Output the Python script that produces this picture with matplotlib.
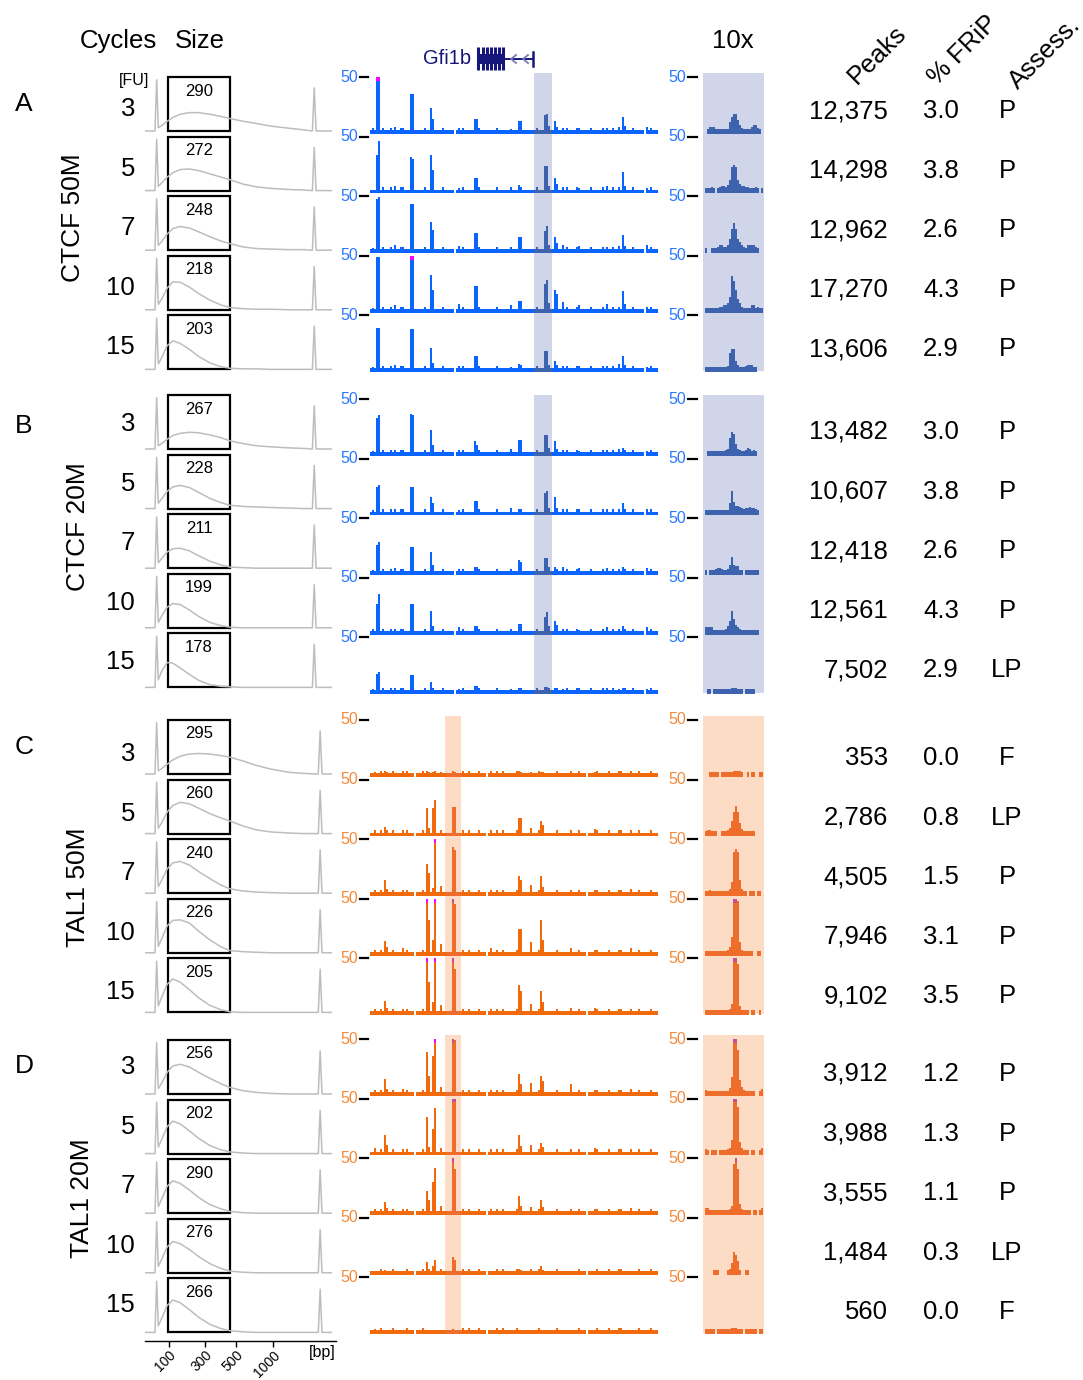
import numpy as np
import matplotlib.pyplot as plt
from matplotlib.patches import Rectangle

plt.rcParams['font.family'] = ['Liberation Sans', 'DejaVu Sans']

W, H = 1083, 1380

# ---------------- data ----------------
cycles = [3, 5, 7, 10, 15]
panel_letters = ['A', 'B', 'C', 'D']
panel_names = ['CTCF 50M', 'CTCF 20M', 'TAL1 50M', 'TAL1 20M']

sizes = [[290, 272, 248, 218, 203],
         [267, 228, 211, 199, 178],
         [295, 260, 240, 226, 205],
         [256, 202, 290, 276, 266]]
peaks = [[12375, 14298, 12962, 17270, 13606],
         [13482, 10607, 12418, 12561, 7502],
         [353, 2786, 4505, 7946, 9102],
         [3912, 3988, 3555, 1484, 560]]
frip = [[3.0, 3.8, 2.6, 4.3, 2.9],
        [3.0, 3.8, 2.6, 4.3, 2.9],
        [0.0, 0.8, 1.5, 3.1, 3.5],
        [1.2, 1.3, 1.1, 0.3, 0.0]]
assess = [['P', 'P', 'P', 'P', 'P'],
          ['P', 'P', 'P', 'P', 'LP'],
          ['F', 'LP', 'P', 'P', 'P'],
          ['P', 'P', 'P', 'LP', 'F']]

# electropherogram traces (relative fluorescence, 0..1) at these run positions
ep_x = [7.2, 9, 12, 15, 19, 24, 29, 35, 41, 46, 53, 60, 68, 78, 86]
ep_hump = [
    [[0.06, 0.10, 0.18, 0.25, 0.31, 0.34, 0.34, 0.31, 0.27, 0.23, 0.18, 0.14, 0.09, 0.05, 0.02],
     [0.08, 0.14, 0.25, 0.33, 0.39, 0.40, 0.37, 0.31, 0.25, 0.20, 0.12, 0.07, 0.04, 0.02, 0.01],
     [0.09, 0.16, 0.30, 0.40, 0.44, 0.41, 0.34, 0.25, 0.17, 0.12, 0.06, 0.03, 0.02, 0.01, 0.01],
     [0.10, 0.20, 0.40, 0.52, 0.51, 0.42, 0.30, 0.18, 0.09, 0.04, 0.02, 0.01, 0.01, 0.0, 0.0],
     [0.10, 0.22, 0.44, 0.53, 0.48, 0.37, 0.24, 0.12, 0.05, 0.02, 0.01, 0.01, 0.0, 0.0, 0.0]],
    [[0.06, 0.10, 0.18, 0.25, 0.29, 0.31, 0.30, 0.26, 0.21, 0.15, 0.10, 0.06, 0.04, 0.02, 0.01],
     [0.10, 0.18, 0.32, 0.40, 0.43, 0.39, 0.30, 0.19, 0.11, 0.06, 0.04, 0.03, 0.02, 0.01, 0.0],
     [0.10, 0.18, 0.30, 0.36, 0.37, 0.32, 0.23, 0.13, 0.06, 0.02, 0.01, 0.0, 0.0, 0.0, 0.0],
     [0.10, 0.22, 0.38, 0.45, 0.43, 0.33, 0.21, 0.10, 0.04, 0.01, 0.0, 0.0, 0.0, 0.0, 0.0],
     [0.14, 0.30, 0.46, 0.45, 0.36, 0.24, 0.13, 0.05, 0.02, 0.01, 0.0, 0.0, 0.0, 0.0, 0.0]],
    [[0.06, 0.10, 0.18, 0.26, 0.33, 0.37, 0.38, 0.37, 0.34, 0.31, 0.24, 0.16, 0.09, 0.03, 0.01],
     [0.10, 0.20, 0.40, 0.52, 0.58, 0.55, 0.47, 0.37, 0.29, 0.23, 0.14, 0.07, 0.03, 0.01, 0.0],
     [0.12, 0.24, 0.45, 0.56, 0.59, 0.52, 0.40, 0.27, 0.15, 0.08, 0.04, 0.02, 0.01, 0.0, 0.0],
     [0.12, 0.26, 0.50, 0.60, 0.61, 0.55, 0.40, 0.24, 0.11, 0.04, 0.02, 0.01, 0.0, 0.0, 0.0],
     [0.12, 0.28, 0.52, 0.62, 0.56, 0.42, 0.27, 0.13, 0.05, 0.01, 0.0, 0.0, 0.0, 0.0, 0.0]],
    [[0.10, 0.20, 0.40, 0.52, 0.55, 0.50, 0.40, 0.29, 0.19, 0.12, 0.06, 0.03, 0.01, 0.0, 0.0],
     [0.12, 0.26, 0.50, 0.60, 0.55, 0.42, 0.28, 0.15, 0.07, 0.03, 0.01, 0.0, 0.0, 0.0, 0.0],
     [0.12, 0.26, 0.50, 0.60, 0.55, 0.43, 0.29, 0.16, 0.08, 0.03, 0.01, 0.0, 0.0, 0.0, 0.0],
     [0.12, 0.25, 0.48, 0.58, 0.54, 0.43, 0.30, 0.17, 0.08, 0.03, 0.01, 0.0, 0.0, 0.0, 0.0],
     [0.12, 0.26, 0.50, 0.60, 0.55, 0.42, 0.28, 0.15, 0.07, 0.03, 0.01, 0.0, 0.0, 0.0, 0.0]],
]
marker_lo = 6.3
marker_hi = [91.4, 91.4, 94.6, 94.6]
ladder_bp = ['100', '300', '500', '1000']
ladder_pos = [13.0, 32.4, 49.2, 69.2]

# genome browser tracks: background coverage (144 bins) + signal at selected bins
bg_ctcf = [1, 3, 1, 1, 1, 1, 3, 1, 1, 1, 3, 1,
           1, 1, 1, 3, 3, 1, 1, 1, 1, 1, 1, 1,
           1, 1, 1, 3, 1, 1, 1, 3, 1, 1, 1, 1,
           3, 1, 1, 1, 1, 1, 0, 1, 1, 1, 3, 1,
           1, 1, 1, 1, 1, 4, 3, 1, 1, 1, 1, 1,
           1, 1, 1, 3, 1, 1, 1, 1, 1, 1, 1, 1,
           1, 1, 1, 3, 1, 1, 1, 1, 1, 1, 1, 3,
           1, 1, 1, 1, 1, 1, 1, 1, 1, 1, 1, 1,
           1, 1, 3, 1, 1, 1, 1, 3, 3, 1, 1, 1,
           1, 1, 3, 1, 1, 1, 1, 1, 3, 1, 1, 1,
           1, 3, 1, 1, 1, 1, 3, 1, 1, 1, 1, 3,
           1, 1, 1, 1, 1, 0, 1, 1, 3, 1, 1, 1]
ctcf_bins = [1, 3, 4, 12, 20, 21, 30, 31, 44, 52, 53, 70, 74, 75,
             87, 88, 89, 92, 93, 96, 104, 118, 124, 126, 127, 138]
ctcf_sig = [
    [[3, 55, 55, 4, 34, 34, 21, 11, 3, 11, 11, 2, 9, 9, 15, 16, 5, 9, 4, 3, 3, 3, 4, 13, 5, 4],
     [1, 33, 46, 4, 31, 29, 33, 19, 2, 12, 12, 3, 5, 3, 23, 23, 4, 12, 6, 3, 2, 4, 3, 17, 4, 2],
     [2, 47, 49, 5, 43, 43, 26, 19, 4, 16, 16, 3, 12, 12, 18, 22, 5, 12, 7, 5, 4, 3, 4, 14, 4, 5],
     [2, 49, 49, 4, 55, 55, 32, 18, 5, 22, 22, 4, 8, 8, 24, 28, 6, 18, 15, 7, 4, 5, 3, 17, 5, 3],
     [2, 38, 38, 4, 37, 37, 20, 6, 3, 12, 12, 2, 5, 4, 17, 17, 4, 8, 4, 3, 3, 3, 5, 12, 4, 2]],
    [[2, 32, 35, 3, 36, 35, 21, 7, 3, 11, 7, 4, 12, 12, 17, 17, 5, 11, 4, 3, 2, 3, 4, 5, 3, 2],
     [2, 24, 26, 3, 24, 24, 14, 9, 2, 11, 11, 4, 3, 3, 18, 20, 4, 14, 4, 3, 3, 3, 3, 9, 3, 3],
     [2, 25, 28, 4, 23, 23, 19, 7, 3, 5, 5, 3, 11, 9, 13, 13, 5, 5, 3, 5, 4, 4, 3, 5, 3, 4],
     [3, 26, 35, 3, 26, 26, 19, 5, 4, 5, 5, 3, 7, 7, 14, 18, 5, 10, 6, 3, 2, 4, 3, 5, 3, 4],
     [2, 16, 18, 3, 15, 15, 9, 3, 2, 5, 5, 2, 3, 3, 4, 4, 3, 3, 3, 2, 3, 3, 2, 3, 3, 2]],
]
bg_tal1 = [1, 1, 3, 1, 1, 3, 1, 1, 1, 1, 1, 3,
           1, 1, 1, 1, 1, 1, 3, 1, 1, 1, 0, 1,
           1, 1, 3, 1, 1, 1, 1, 1, 1, 1, 1, 1,
           1, 1, 1, 1, 1, 1, 1, 1, 1, 1, 3, 1,
           1, 3, 1, 1, 1, 1, 3, 1, 1, 1, 0, 1,
           1, 1, 1, 3, 1, 1, 3, 1, 1, 1, 1, 1,
           1, 3, 1, 1, 1, 1, 1, 1, 1, 1, 1, 1,
           3, 1, 1, 1, 1, 1, 1, 1, 1, 3, 1, 1,
           1, 1, 1, 1, 3, 1, 1, 1, 3, 1, 1, 1,
           0, 1, 1, 1, 1, 3, 1, 1, 1, 1, 1, 3,
           1, 1, 1, 1, 3, 3, 1, 1, 1, 1, 1, 1,
           1, 1, 3, 1, 1, 1, 1, 1, 3, 1, 1, 1]
tal1_bins = [2, 7, 8, 16, 28, 29, 31, 32, 35, 41, 42, 60, 74, 75, 80, 85, 86, 100, 112, 130]
tal1_sig = [
    [[2, 3, 2, 3, 3, 2, 2, 3, 2, 3, 2, 3, 3, 2, 2, 2, 2, 3, 2, 3],
     [3, 6, 3, 3, 24, 5, 24, 31, 3, 25, 25, 3, 14, 14, 5, 12, 8, 3, 4, 3],
     [3, 12, 4, 3, 27, 19, 5, 55, 7, 43, 40, 3, 16, 12, 8, 16, 6, 3, 3, 4],
     [3, 11, 5, 4, 55, 30, 12, 55, 8, 55, 45, 4, 22, 22, 10, 30, 12, 4, 3, 4],
     [3, 11, 4, 3, 55, 28, 10, 55, 7, 55, 40, 3, 25, 20, 8, 20, 10, 4, 4, 3]],
    [[3, 13, 4, 4, 38, 16, 34, 55, 6, 55, 49, 3, 18, 8, 9, 16, 11, 8, 3, 4],
     [4, 16, 7, 3, 33, 5, 22, 41, 4, 55, 55, 3, 16, 6, 7, 9, 5, 3, 4, 3],
     [3, 9, 4, 3, 20, 11, 28, 41, 6, 55, 40, 3, 15, 6, 5, 11, 5, 3, 3, 4],
     [1, 2, 1, 1, 9, 3, 5, 11, 3, 14, 11, 1, 3, 2, 3, 5, 2, 1, 1, 1],
     [2, 1, 1, 1, 1, 1, 1, 1, 1, 2, 1, 1, 1, 1, 1, 1, 1, 1, 1, 1]],
]

# 10x zoom on the highlighted region (29 bins)
tenx = [
    [[0, 2, 4, 4, 4, 2, 2, 2, 2, 2, 2, 2, 8, 13, 16, 16, 10, 6, 3, 2, 2, 2, 2, 4, 6, 6, 3, 2, 0],
     [2, 2, 2, 3, 2, 0, 2, 3, 4, 4, 3, 5, 10, 22, 24, 22, 10, 6, 4, 4, 3, 3, 2, 2, 2, 3, 2, 0, 2],
     [2, 0, 0, 2, 2, 2, 3, 5, 5, 3, 3, 5, 10, 20, 25, 20, 10, 8, 5, 3, 2, 5, 5, 5, 5, 3, 2, 0, 0],
     [2, 2, 2, 2, 2, 2, 2, 3, 3, 4, 4, 6, 12, 31, 27, 18, 10, 6, 3, 2, 2, 2, 2, 4, 4, 2, 3, 2, 2],
     [2, 2, 2, 2, 2, 2, 2, 2, 2, 2, 2, 3, 15, 19, 19, 8, 4, 2, 2, 2, 3, 4, 4, 4, 2, 2, 0, 0, 0]],
    [[0, 2, 2, 2, 2, 2, 2, 2, 2, 2, 3, 4, 14, 19, 18, 8, 4, 3, 2, 2, 3, 5, 4, 2, 3, 2, 0, 0, 0],
     [2, 2, 2, 2, 2, 2, 2, 2, 2, 2, 2, 2, 9, 20, 10, 6, 6, 5, 4, 3, 4, 4, 5, 4, 4, 3, 2, 0, 0],
     [2, 0, 2, 2, 2, 3, 4, 4, 3, 2, 2, 3, 7, 14, 7, 6, 6, 2, 2, 0, 2, 2, 2, 2, 2, 2, 2, 0, 0],
     [4, 4, 4, 4, 2, 2, 2, 2, 2, 2, 3, 5, 10, 19, 12, 6, 4, 3, 2, 2, 2, 2, 2, 2, 2, 2, 2, 0, 0],
     [0, 2, 2, 0, 2, 2, 2, 2, 2, 2, 2, 2, 2, 3, 3, 3, 2, 2, 2, 0, 2, 2, 2, 2, 2, 0, 0, 0, 0]],
    [[0, 0, 2, 2, 2, 2, 2, 0, 2, 2, 2, 2, 2, 2, 3, 3, 3, 3, 2, 0, 0, 2, 0, 2, 2, 0, 0, 2, 2],
     [2, 3, 3, 2, 2, 2, 0, 0, 2, 2, 2, 3, 5, 12, 20, 26, 20, 10, 4, 2, 2, 2, 2, 2, 2, 0, 0, 0, 0],
     [2, 2, 3, 2, 2, 2, 2, 2, 2, 2, 2, 2, 4, 10, 38, 41, 38, 12, 4, 2, 2, 0, 2, 2, 2, 0, 2, 2, 0],
     [2, 2, 2, 2, 2, 2, 2, 2, 2, 2, 2, 3, 5, 15, 55, 55, 48, 10, 3, 2, 2, 2, 2, 2, 0, 0, 2, 2, 0],
     [2, 2, 2, 2, 2, 2, 2, 2, 2, 2, 2, 2, 3, 8, 55, 55, 45, 6, 2, 2, 2, 2, 0, 2, 2, 0, 0, 2, 0]],
    [[3, 2, 2, 2, 2, 2, 2, 2, 2, 2, 2, 2, 5, 15, 55, 55, 40, 12, 6, 3, 2, 2, 2, 2, 2, 0, 0, 2, 4],
     [3, 2, 0, 2, 2, 2, 0, 2, 2, 2, 2, 3, 4, 12, 55, 55, 42, 10, 4, 2, 2, 2, 0, 2, 2, 0, 0, 2, 4],
     [4, 4, 2, 2, 2, 2, 2, 2, 2, 2, 2, 2, 3, 6, 45, 55, 40, 8, 3, 2, 2, 2, 2, 0, 2, 2, 0, 2, 4],
     [0, 0, 0, 0, 2, 2, 2, 0, 0, 0, 0, 2, 3, 8, 18, 16, 10, 2, 0, 0, 2, 2, 0, 0, 0, 0, 0, 0, 0],
     [2, 2, 2, 2, 2, 0, 2, 2, 2, 2, 2, 2, 2, 3, 3, 3, 2, 2, 2, 0, 2, 2, 2, 2, 2, 2, 0, 2, 2]],
]

gene_exons = [478, 483, 487, 491, 495, 499, 503]

# ---------------- styling ----------------
blue, blue_in = '#0a64ff', '#3d62ae'
orange, orange_in = '#f06a0c', '#ee6d2a'
mag, mag_in = '#ff00ff', '#c4509a'
band_cols = ['#d0d5ea', '#d0d5ea', '#fddcc6', '#fddcc6']
bar_cols = [(blue, blue_in), (blue, blue_in), (orange, orange_in), (orange, orange_in)]
lab_cols = ['#2a78ff', '#2a78ff', '#f38a3c', '#f38a3c']
band_px = [(534, 552), (534, 552), (445, 461), (445, 461)]

panel_top = [77, 399, 720, 1039]
step = 59.6
trk_h = 54.0
cyc_off = [32, 25, 34, 28]
stat_off = [34, 33, 38, 35]
ep_off = [0, -4, 0, 1]
name_y = [218, 527, 887, 1198]
name_x = [73, 78, 78, 82]

fig = plt.figure(figsize=(W / 100, H / 100), dpi=100)
bg = fig.add_axes([0, 0, 1, 1])
bg.set_xlim(0, W)
bg.set_ylim(H, 0)
bg.axis('off')


def px_axes(x0, y0, x1, y1):
    ax = fig.add_axes([x0 / W, 1 - y1 / H, (x1 - x0) / W, (y1 - y0) / H])
    ax.axis('off')
    return ax


def draw_bars(ax, vals, lo, hi, col, col_in):
    vals = np.asarray(vals, float)
    x = np.arange(len(vals))
    inb = (x >= lo) & (x < hi)
    keep = vals > 0
    ax.bar(x[keep], np.minimum(vals[keep], 50) + 2.5, bottom=-2.5, width=1,
           align='edge', color=[col_in if inb[i] else col for i in x[keep]],
           linewidth=0)
    over = vals > 50
    if over.any():
        ax.bar(x[over], 3.5, bottom=46.5, width=1, align='edge',
               color=[mag_in if inb[i] else mag for i in x[over]], linewidth=0)
    ax.set_xlim(0, len(vals))
    ax.set_ylim(-2.5, 50)


# headers
big = 18.5
bg.text(118, 41, 'Cycles', ha='center', va='center', fontsize=big)
bg.text(200, 41, 'Size', ha='center', va='center', fontsize=big)
bg.text(733, 41, '10x', ha='center', va='center', fontsize=big)
for lab, (hx, hy) in zip(['Peaks', '% FRiP', 'Assess.'], [(877, 55), (963, 50), (1045, 53)]):
    bg.text(hx, hy, lab, ha='center', va='center', fontsize=big, rotation=45,
            rotation_mode='anchor')
bg.text(134, 80, '[FU]', ha='center', va='center', fontsize=11.5)

# gene model
navy = '#16167a'
bg.text(447, 59, 'Gfi1b', ha='center', va='center', fontsize=14.5, color=navy)
bg.add_patch(Rectangle((478, 54), 27, 10, color=navy, lw=0))
for ex in gene_exons:
    bg.plot([ex, ex], [47, 70], color=navy, lw=2.2, solid_capstyle='butt')
bg.plot([478, 533], [59, 59], color=navy, lw=1.4)
for ch in [511, 523]:
    bg.plot([ch + 5, ch, ch + 5], [55, 59, 63], color='#7a7ab8', lw=1.3)
bg.plot([533, 533], [52, 66], color=navy, lw=1.8)

ep_full_x = [0, 5.4, marker_lo] + ep_x

for p in range(4):
    top0 = panel_top[p]
    tops = [top0 + i * step for i in range(5)]
    bottom = tops[-1] + trk_h + 2
    col, col_in = bar_cols[p]
    # highlight bands
    bx0, bx1 = band_px[p]
    bg.add_patch(Rectangle((bx0, top0 - 4), bx1 - bx0, bottom - top0 + 4,
                           color=band_cols[p], lw=0))
    bg.add_patch(Rectangle((703, top0 - 4), 61, bottom - top0 + 4,
                           color=band_cols[p], lw=0))
    # panel labels
    bg.text(24, top0 + 27, panel_letters[p], ha='center', va='center', fontsize=19)
    bg.text(name_x[p], name_y[p], panel_names[p], ha='center', va='center',
            fontsize=19, rotation=90)

    if p < 2:
        bins, sig, base = ctcf_bins, ctcf_sig[p], bg_ctcf
    else:
        bins, sig, base = tal1_bins, tal1_sig[p - 2], bg_tal1
    lo = (bx0 - 370) / 2.0
    hi = (bx1 - 370) / 2.0

    for i, top in enumerate(tops):
        # stats columns
        bg.text(135, top + cyc_off[p], str(cycles[i]), ha='right', va='center', fontsize=big)
        bg.text(888, top + stat_off[p], f'{peaks[p][i]:,}', ha='right', va='center', fontsize=big)
        bg.text(941, top + stat_off[p], f'{frip[p][i]:.1f}', ha='center', va='center', fontsize=big)
        bg.text(1007, top + stat_off[p], assess[p][i], ha='center', va='center', fontsize=big)

        # scale labels
        bg.text(358, top, '50', ha='right', va='center', fontsize=11.5, color=lab_cols[p])
        bg.plot([360, 368], [top, top], color='k', lw=1.6)
        bg.text(686, top, '50', ha='right', va='center', fontsize=11.5, color=lab_cols[p])
        bg.plot([688, 697], [top, top], color='k', lw=1.6)

        # electropherogram
        et = top + ep_off[p]
        bg.add_patch(Rectangle((168, et), 62, trk_h, fill=False, ec='k', lw=1.6, zorder=5))
        bg.text(199, et + 14, str(sizes[p][i]), ha='center', va='center', fontsize=12, zorder=6)
        eax = px_axes(145, et, 332, et + trk_h + 1.6)
        mh = marker_hi[p]
        xs = ep_full_x + [mh - 1.0, mh, mh + 1.0, 101]
        ys = [0, 0, 0.95] + ep_hump[p][i] + [0, 0.8, 0, 0]
        eax.plot(xs, ys, color='#bdbdbd', lw=1.1)
        eax.set_xlim(0, 101)
        eax.set_ylim(-0.03, 1.0)

        # genome track
        vals = list(base)
        for b, v in zip(bins, sig[i]):
            vals[b] = v
        tax = px_axes(370, top, 658, top + trk_h + 2.7)
        draw_bars(tax, vals, lo, hi, col, col_in)

        # 10x track
        zax = px_axes(705, top, 763, top + trk_h + 2.7)
        draw_bars(zax, tenx[p][i], 0, 99, col_in, col_in)

# fragment size axis under the last electropherogram
sax = fig.add_axes([145 / W, 1 - 1341 / H, (336 - 145) / W, 0.0001])
for s in ['left', 'right', 'top']:
    sax.spines[s].set_visible(False)
sax.spines['bottom'].set_linewidth(1.0)
sax.patch.set_alpha(0)
sax.set_xlim(0, (336 - 145) / 1.85)
sax.set_yticks([])
sax.set_xticks(ladder_pos)
sax.set_xticklabels(ladder_bp, rotation=45, ha='right', rotation_mode='anchor', fontsize=10)
sax.tick_params(axis='x', length=4, width=1.0, pad=1)
bg.text(322, 1353, '[bp]', ha='center', va='center', fontsize=11.5)

fig.savefig('out.png', dpi=100)
